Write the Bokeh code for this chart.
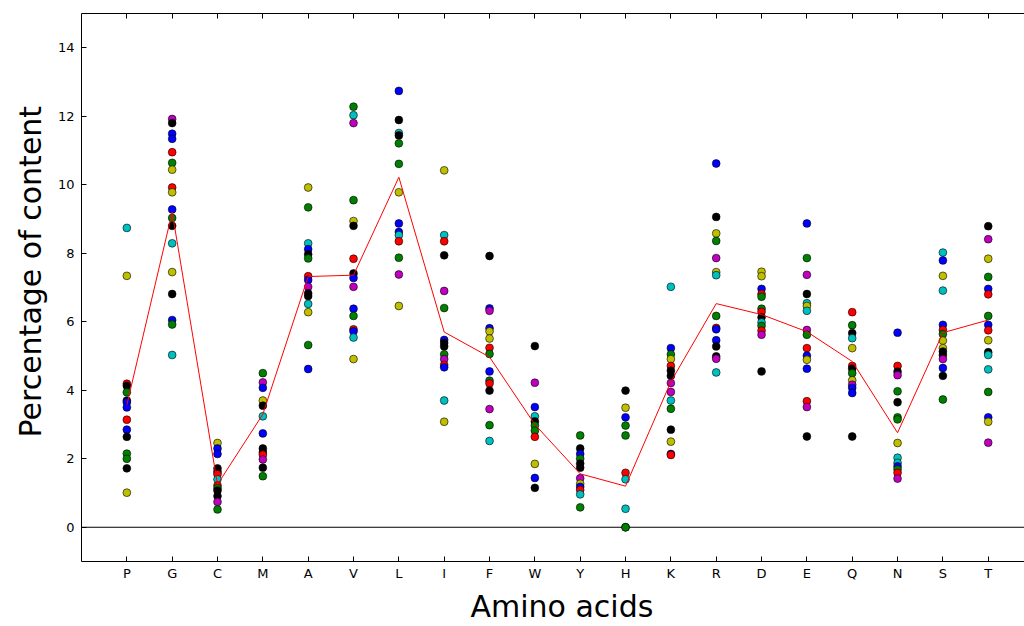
from bokeh.plotting import figure
from bokeh.models import ColumnDataSource, Range1d, FixedTicker, LinearAxis, Span, Title
from bokeh.embed import file_html
from bokeh.resources import INLINE

categories = ["P", "G", "C", "M", "A", "V", "L", "I", "F", "W",
              "Y", "H", "K", "R", "D", "E", "Q", "N", "S", "T"]
y_ticks = [0, 2, 4, 6, 8, 10, 12, 14]

# colour codes: b blue, g green, r red, c cyan, m magenta, y olive-yellow, k black
P_vals = [8.74, 7.34, 4.19, 4.13, 3.94, 3.70, 3.65, 3.50, 3.14, 2.85, 2.64, 2.15, 2.00, 1.72, 1.01]
P_cols = "cyrkgkbbrbkggky"
G_vals = [11.92, 11.80, 11.49, 11.34, 10.95, 10.64, 10.44, 9.92, 9.78, 9.28, 9.03, 8.80, 8.29, 7.45, 6.81, 6.05, 5.92, 5.03]
G_cols = "mkbbrgyrybgkcykbgc"
C_vals = [2.46, 2.30, 2.14, 1.72, 1.62, 1.55, 1.40, 1.22, 1.14, 1.07, 0.91, 0.74, 0.52]
C_cols = "ybbkkrcrgkkmg"
M_vals = [4.50, 4.23, 4.07, 3.70, 3.55, 3.24, 2.74, 2.30, 2.19, 2.12, 1.98, 1.74, 1.49]
M_cols = "gmbykcbkkrmkg"
A_vals = [9.92, 9.34, 8.29, 8.12, 7.97, 7.85, 7.33, 7.22, 7.02, 6.83, 6.75, 6.52, 6.28, 5.32, 4.62]
A_cols = "ygcbkgrbmkkcygb"
V_vals = [12.28, 12.03, 11.80, 9.55, 8.94, 8.80, 7.84, 7.41, 7.28, 7.02, 6.38, 6.17, 5.78, 5.72, 5.54, 4.91]
V_cols = "gcmgykrkbmbgrbcy"
L_vals = [12.74, 11.89, 11.51, 11.44, 11.21, 10.61, 9.78, 8.87, 8.62, 8.53, 8.35, 7.87, 7.38, 6.46]
L_cols = "bkckggybbcrgmy"
I_vals = [10.42, 8.53, 8.35, 7.94, 6.90, 6.40, 5.47, 5.38, 5.28, 5.05, 4.91, 4.74, 4.67, 3.70, 3.08]
I_cols = "ycrkmgbkkgmrbcy"
F_vals = [7.92, 6.39, 6.32, 5.81, 5.72, 5.51, 5.24, 5.06, 4.55, 4.28, 4.20, 3.99, 3.45, 2.98, 2.52]
F_cols = "kbmbyyrgbgrkmgc"
W_vals = [5.29, 4.22, 3.51, 3.24, 3.09, 2.97, 2.82, 2.64, 1.85, 1.44, 1.15]
W_cols = "kmbckggrybk"
Y_vals = [2.68, 2.30, 2.14, 2.00, 1.86, 1.74, 1.43, 1.27, 1.18, 1.09, 0.96, 0.58]
Y_cols = "gkbgkkmybrcg"
H_vals = [3.99, 3.49, 3.21, 2.97, 2.68, 1.59, 1.40, 0.54, 0.0, 0.0]
H_cols = "kybggrcckg"
K_vals = [7.02, 5.23, 5.05, 4.91, 4.71, 4.57, 4.42, 4.21, 3.95, 3.70, 3.46, 2.85, 2.50, 2.14, 2.11]
K_cols = "cbgyrkkmmcgkybr"
R_vals = [10.62, 9.06, 8.58, 8.36, 7.86, 7.45, 7.36, 6.17, 5.82, 5.78, 5.46, 5.28, 4.99, 4.92, 4.52]
R_cols = "bkygmycgrbbkkmc"
D_vals = [7.46, 7.33, 6.96, 6.81, 6.73, 6.38, 6.29, 6.13, 5.98, 5.88, 5.74, 5.62, 4.55]
D_cols = "yybrggrkcgrmk"
E_vals = [8.87, 7.86, 7.37, 6.81, 6.54, 6.46, 6.32, 5.76, 5.62, 5.23, 5.01, 4.89, 4.63, 3.68, 3.51, 2.65]
E_cols = "bgmkcycmgrbybrmk"
Q_vals = [6.28, 5.90, 5.67, 5.52, 5.23, 4.71, 4.63, 4.50, 4.29, 4.16, 4.07, 3.92, 2.65]
Q_cols = "rgkcyrkgymbbk"
N_vals = [5.68, 4.71, 4.54, 4.44, 3.97, 3.65, 3.21, 3.15, 2.46, 2.03, 1.88, 1.78, 1.69, 1.59, 1.42]
N_cols = "brkmgkggyccbgrm"
S_vals = [8.02, 7.79, 7.34, 6.91, 5.91, 5.76, 5.64, 5.45, 5.23, 5.13, 5.03, 4.91, 4.65, 4.42, 3.73]
S_cols = "cbycbrgyykkmbkg"
T_vals = [8.79, 8.41, 7.84, 7.31, 6.96, 6.80, 6.17, 5.91, 5.75, 5.46, 5.11, 5.03, 4.61, 3.95, 3.21, 3.08, 2.47]
T_cols = "kmygbrgbrykccgbym"

mean_line = [3.57, 9.20, 1.25, 3.30, 7.32, 7.36, 10.22, 5.70, 4.97, 3.00,
             1.56, 1.20, 4.25, 6.53, 6.21, 5.71, 4.84, 2.76, 5.68, 6.05]

color_map = {"b": "#0000ff", "g": "#008000", "r": "#ff0000", "c": "#00bfbf",
             "m": "#bf00bf", "y": "#bfbf00", "k": "#000000"}

all_vals = [P_vals, G_vals, C_vals, M_vals, A_vals, V_vals, L_vals, I_vals, F_vals, W_vals,
            Y_vals, H_vals, K_vals, R_vals, D_vals, E_vals, Q_vals, N_vals, S_vals, T_vals]
all_cols = [P_cols, G_cols, C_cols, M_cols, A_cols, V_cols, L_cols, I_cols, F_cols, W_cols,
            Y_cols, H_cols, K_cols, R_cols, D_cols, E_cols, Q_cols, N_cols, S_cols, T_cols]

xs, ys, fills = [], [], []
for i, (vals, cols) in enumerate(zip(all_vals, all_cols)):
    for v, c in zip(vals, cols):
        xs.append(i + 1)
        ys.append(v)
        fills.append(color_map[c])
pts = ColumnDataSource(dict(x=xs, y=ys, fill=fills))
line_src = ColumnDataSource(dict(x=list(range(1, len(categories) + 1)), y=mean_line))

FONT = "DejaVu Sans"

p = figure(width=1024, height=626, x_range=Range1d(0, 20.8), y_range=Range1d(-1, 15),
           output_backend="svg", toolbar_location=None,
           min_border_left=81, min_border_right=0, min_border_top=13, min_border_bottom=64)
p.outline_line_color = None
p.xgrid.visible = False
p.ygrid.visible = False
p.background_fill_color = "white"
p.border_fill_color = "white"

zero = Span(location=0, dimension="width", line_color="black", line_width=1, level="underlay")
p.add_layout(zero)

p.scatter("x", "y", source=pts, size=7.8, marker="circle", fill_color="fill",
          line_color="black", line_width=0.6)
p.line("x", "y", source=line_src, line_color="#ff0000", line_width=1)

tick_pos = list(range(1, len(categories) + 1))
xa = p.xaxis[0]
xa.ticker = FixedTicker(ticks=tick_pos)
xa.major_label_overrides = {i + 1: c for i, c in enumerate(categories)}
xa.major_tick_in = 5
xa.major_tick_out = 0
xa.minor_tick_line_color = None
xa.major_label_standoff = 4
xa.major_label_text_font = FONT
xa.major_label_text_font_size = "13px"
xa.major_label_text_color = "black"

xtitle = Title(text="Amino acids", align="left", offset=389, standoff=6,
               text_font=FONT, text_font_size="30px", text_font_style="normal",
               text_color="black")
p.add_layout(xtitle, "below")

ya = p.yaxis[0]
ya.ticker = FixedTicker(ticks=y_ticks)
ya.major_tick_in = 5
ya.major_tick_out = 0
ya.minor_tick_line_color = None
ya.major_label_standoff = 7
ya.major_label_text_font = FONT
ya.major_label_text_font_size = "13px"
ya.major_label_text_color = "black"

ytitle = Title(text="Percentage of content", align="left", offset=124, standoff=14,
               text_font=FONT, text_font_size="30px", text_font_style="normal",
               text_color="black")
p.add_layout(ytitle, "left")

top = LinearAxis(ticker=FixedTicker(ticks=tick_pos),
                 major_label_overrides={t: "" for t in tick_pos},
                 major_label_text_font_size="0px", major_label_standoff=0,
                 major_tick_in=5, major_tick_out=0, minor_tick_line_color=None,
                 axis_line_color="black")
p.add_layout(top, "above")

open("out.html", "w").write(file_html(p, INLINE))
